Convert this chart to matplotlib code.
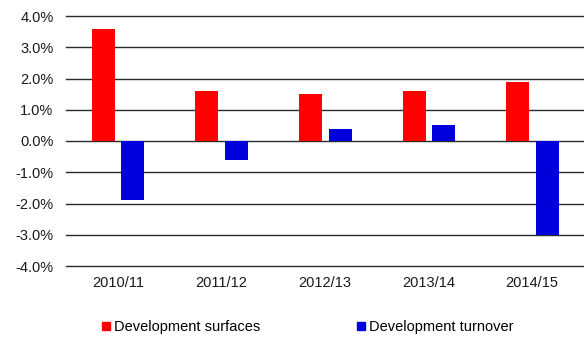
import matplotlib.pyplot as plt
from matplotlib.lines import Line2D
import numpy as np

# Yearly changes (%)
years = ["2010/11", "2011/12", "2012/13", "2013/14", "2014/15"]
surfaces = [3.6, 1.6, 1.5, 1.6, 1.9]
turnover = [-1.9, -0.6, 0.4, 0.5, -3.0]

plt.rcParams['font.family'] = ['Liberation Sans', 'DejaVu Sans']

fig = plt.figure(figsize=(5.84, 3.38), dpi=100)
ax = fig.add_axes([66 / 584, 72 / 338, 518 / 584, 250 / 338])

x = np.arange(len(years))
ax.bar(x - 0.14, surfaces, width=0.222, color="#ff0000", zorder=3)
ax.bar(x + 0.145, turnover, width=0.222, color="#0000dd", zorder=3)

ax.set_xlim(-0.5, len(years) - 0.5)
ax.set_ylim(-4, 4)
ax.set_yticks(np.arange(-4, 4.1, 1))
ax.set_yticklabels([f"{v:.1f}%" for v in np.arange(-4, 4.1, 1)])
ax.set_xticks(x)
ax.set_xticklabels(years)
ax.tick_params(length=0, labelsize=10.5, colors="#1a1a1a")
ax.tick_params(axis="x", pad=7.5)
ax.tick_params(axis="y", pad=9)
ax.yaxis.grid(True, color="#2a2a2a", linewidth=1.0, zorder=0)
# keep the outermost gridlines at full width
for gl in ax.get_ygridlines():
    gl.set_clip_on(False)
for s in ax.spines.values():
    s.set_visible(False)

handles = [
    Line2D([], [], marker="s", linestyle="none", color="#ff0000", markersize=5.5),
    Line2D([], [], marker="s", linestyle="none", color="#0000dd", markersize=5.5),
]
fig.legend(handles, ["Development surfaces", "Development turnover"],
           loc="center", bbox_to_anchor=(0.527, 0.033), ncol=2, frameon=False,
           fontsize=10.5, handlelength=0.55, handletextpad=0.3, columnspacing=6.6)

fig.savefig("out.png", dpi=100)
